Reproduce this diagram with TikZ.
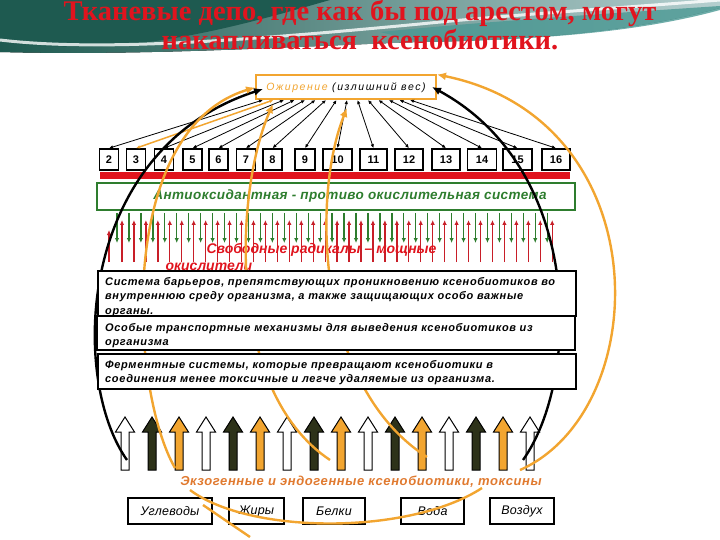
\documentclass[tikz,border=0pt]{standalone}
\usepackage{fontspec}
\setmainfont{Liberation Serif}
\setsansfont{Liberation Sans}
\usetikzlibrary{arrows.meta}
\definecolor{tealdark}{HTML}{1E5A50}
\definecolor{tealmid}{HTML}{4A9893}
\definecolor{teallight}{HTML}{B4CFCF}
\definecolor{titlered}{HTML}{E0141E}
\definecolor{arcorange}{HTML}{F2A530}
\definecolor{exoorange}{HTML}{E07A30}
\definecolor{darkolive}{HTML}{2D3219}
\definecolor{aoxgreen}{HTML}{2E7D2E}
\definecolor{radred}{HTML}{C81E28}

\begin{document}
\begin{tikzpicture}[x=1pt, y=-1pt, every node/.style={font=\sffamily},
  numbox/.style={draw, line width=1.6pt, fill=white, minimum height=21pt, inner sep=0pt,
    font=\sffamily\bfseries\fontsize{11}{12}\selectfont},
  textbox/.style={draw, line width=2pt, fill=white, anchor=north west, minimum width=478pt,
    inner sep=0pt},
  boxtext/.style={anchor=north west, text width=462pt, align=left, inner sep=0pt,
    font=\sffamily\bfseries\itshape\fontsize{11}{14.5}\selectfont\addfontfeature{LetterSpace=6}},
  foodbox/.style={draw, line width=2pt, fill=white, anchor=north west, minimum height=26pt,
    inner sep=0pt, font=\sffamily\itshape\fontsize{12.5}{14}\selectfont\addfontfeature{LetterSpace=2}},
  fan/.style={{Latex[length=4pt,width=3.5pt]}-{Latex[length=4pt,width=3.5pt]}, line width=0.8pt},
  bigarc/.style={-{Latex[length=9pt,width=8pt]}, line width=2.4pt}]
  \useasboundingbox (0,0) rectangle (720,540);

  % banner
  \fill[left color=tealdark, right color=teallight] (0,0) -- (720,0) -- (720,8)
    .. controls (640,30) and (540,40) .. (420,42) .. controls (300,46) and (150,56) .. (0,52) -- cycle;
  \fill[tealdark] (0,0) -- (330,0) .. controls (260,20) and (190,40) .. (110,46)
    .. controls (60,48) and (20,45) .. (0,42) -- cycle;
  \fill[tealmid, opacity=0.8] (380,32) .. controls (480,22) and (600,14) .. (720,6) -- (720,10)
    .. controls (640,32) and (540,40) .. (420,42) -- cycle;
  \draw[white, line width=3pt, opacity=0.8] (0,40) .. controls (100,52) and (250,40) .. (420,24)
    .. controls (520,14) and (620,8) .. (720,0);
  \node[font=\rmfamily\bfseries\fontsize{28.5}{31}\selectfont, text=titlered, anchor=base] (title1)
    at (360,21) {Тканевые депо, где как бы под арестом, могут};
  \node[font=\rmfamily\bfseries\fontsize{28.5}{31}\selectfont, text=titlered, anchor=base] (title2)
    at (360,50) {накапливаться\ \ ксенобиотики.};

  % top box and numbered boxes
  \node[draw=arcorange, line width=2pt, fill=white, minimum width=180pt, minimum height=24pt,
    inner sep=0pt, font=\sffamily\itshape\fontsize{10.5}{12}\selectfont\addfontfeature{LetterSpace=15}]
    (fat) at (346,87.5) {\textcolor{arcorange}{Ожирение} (излишний вес)};
  \foreach \n/\x/\w in {2/109/19, 3/136/19, 4/164/19, 5/192.5/19, 6/218.5/19, 7/246/19, 8/272.5/19,
      9/305/20, 10/337.5/29, 11/373.5/27, 12/409/28, 13/446/28, 14/482/29, 15/517.5/29, 16/556/28}
  {
    \node[numbox, minimum width=\w pt] (n\n) at (\x,159.5) {\n};
    \coordinate (t\n) at ({263+10.5*(\n-2)},100);
  }
  \fill[titlered] (100,172) rectangle (570,179);

  % antioxidant box and radicals
  \node[draw=aoxgreen, line width=2pt, minimum width=478pt, minimum height=27pt, inner sep=0pt,
    text=aoxgreen, font=\sffamily\bfseries\itshape\fontsize{13.5}{15}\selectfont\addfontfeature{LetterSpace=3}]
    (aox) at (336,196.5) {\hspace*{28pt}Антиоксидантная - противо окислительная система};
  \foreach \k in {0,...,36}
  {
    \draw[aoxgreen, line width=1.3pt, -{Latex[length=5pt,width=4.5pt]}]
      ({117+11.95*\k},213) -- ({117+11.95*\k},243);
    \draw[radred, line width=1.3pt, -{Latex[length=5pt,width=4.5pt]}]
      ({122+11.95*\k},262) -- ({122+11.95*\k},220);
  }
  \draw[radred, line width=1.3pt, -{Latex[length=5pt,width=4.5pt]}] (109,262) -- (109,230);
  \node[text=titlered, anchor=west, font=\sffamily\bfseries\itshape\fontsize{14}{16}\selectfont]
    (rad1) at (203,250) {Свободные радикалы – мощные};
  \node[text=titlered, anchor=west, font=\sffamily\bfseries\itshape\fontsize{14}{16}\selectfont]
    (rad2) at (162,267) {окислители};

  % block arrows
  \foreach \i/\c [evaluate=\i as \x using 125+27*(\i-1)] in
      {1/white, 2/darkolive, 3/arcorange, 4/white, 5/darkolive, 6/arcorange, 7/white, 8/darkolive,
       9/arcorange, 10/white, 11/darkolive, 12/arcorange, 13/white, 14/darkolive, 15/arcorange, 16/white}
  {
    \filldraw[fill=\c, draw=black, line width=1pt] ({\x-4},470) -- ({\x-4},432) -- ({\x-9.5},432)
      -- (\x,417) -- ({\x+9.5},432) -- ({\x+4},432) -- ({\x+4},470) -- cycle;
    \coordinate (a\i) at (\x,470);
  }
  \node[text=exoorange, font=\sffamily\bfseries\itshape\fontsize{13}{15}\selectfont\addfontfeature{LetterSpace=4.5}]
    (exo) at (361,482) {Экзогенные и эндогенные ксенобиотики, токсины};

  % food boxes
  \node[foodbox, minimum width=84pt] (carb) at (127,497) {Углеводы};
  \node[foodbox, minimum width=55pt] (fats) at (228,497) {Жиры};
  \node[foodbox, minimum width=62pt] (prot) at (302,497) {Белки};
  \node[foodbox, minimum width=63pt] (water) at (400,497) {Вода};
  \node[foodbox, minimum width=64pt] (air) at (489,497) {Воздух};

  % fan to the numbered boxes
  \foreach \n in {2,4,5,6,7,8,9,10,11,12,13,14,15,16}
    \draw[fan] (n\n.north) -- (t\n);
  \draw[fan, arcorange, line width=1.5pt] (n3.north) -- (t3);

  % big arcs
  \coordinate (lb) at (127,460);
  \coordinate (rb) at (523,460);
  \coordinate (oa) at (175,468);
  \coordinate (ob) at (330,460);
  \coordinate (oc) at (427,457);
  \coordinate (od) at (520,470);
  \coordinate (fatL) at (263,89);
  \coordinate (fatR) at (432,87);
  \coordinate (fatB) at (273,104);
  \coordinate (fatC) at (347,108);
  \draw[bigarc] (lb) .. controls (70,380) and (75,150) .. (fatL);
  \draw[bigarc] (rb) .. controls (580,380) and (585,170) .. (fatR);
  \draw[bigarc, arcorange] (oa) .. controls (130,390) and (115,130) .. (fat.west);
  \draw[bigarc, arcorange] (ob) .. controls (225,390) and (235,190) .. (fatB);
  \draw[bigarc, arcorange] (oc) .. controls (315,385) and (312,195) .. (fatC);
  \draw[bigarc, arcorange] (od) .. controls (655,410) and (660,120) .. (fat.north east);
  \draw[arcorange, line width=2.4pt] (190,490) .. controls (250,535) and (410,535) .. (482,488);
  \draw[arcorange, line width=2.4pt] (203,505) .. controls (225,520) .. (250,537);

  % text boxes on top
  \node[textbox, minimum height=45pt] (barrier) at (97,270) {};
  \node[boxtext] (barrierText) at (105,277)
    {Система барьеров, препятствующих проникновению ксенобиотиков во\\
     внутреннюю среду организма, а также защищающих особо важные\\
     органы.};
  \node[textbox, minimum height=34pt] (transport) at (96,315) {};
  \node[boxtext] (transportText) at (105,323)
    {Особые транспортные механизмы для выведения ксенобиотиков из\\
     организма};
  \node[textbox, minimum height=35pt] (enzyme) at (97,353) {};
  \node[boxtext] (enzymeText) at (105,360)
    {Ферментные системы, которые превращают ксенобиотики в\\
     соединения менее токсичные и легче удаляемые из организма.};
\end{tikzpicture}
\end{document}
